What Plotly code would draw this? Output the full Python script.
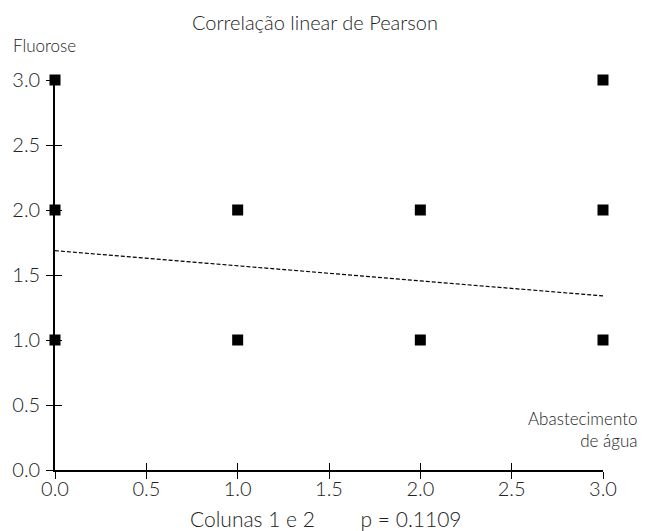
import plotly.graph_objects as go

# Data
abastecimento = [0, 0, 0, 1, 1, 2, 2, 3, 3, 3]
fluorose = [3, 2, 1, 2, 1, 2, 1, 3, 2, 1]
reg_intercept = 1.687
reg_slope = -0.116
reg_x = [0, 3]
reg_y = [reg_intercept + reg_slope * v for v in reg_x]
tick_vals = [0, 0.5, 1, 1.5, 2, 2.5, 3]
tick_text = ["0.0", "0.5", "1.0", "1.5", "2.0", "2.5", "3.0"]

FONT = "Lato"
W8 = 300
TXT = "#222222"

fig = go.Figure()
fig.add_trace(go.Scatter(x=reg_x, y=reg_y, mode="lines",
                         line=dict(color="black", width=1.2, dash="4px,2px"),
                         showlegend=False, hoverinfo="skip"))
fig.add_trace(go.Scatter(x=abastecimento, y=fluorose, mode="markers",
                         marker=dict(symbol="square", size=11, color="black"),
                         cliponaxis=False, showlegend=False))
# dummy trace so secondary axes render
fig.add_trace(go.Scatter(x=[None], y=[None], xaxis="x2", yaxis="y2", showlegend=False))

axis_common = dict(range=[0, 3], tickvals=tick_vals, showgrid=False, zeroline=False,
                   showline=True, linecolor="black", linewidth=1.6,
                   ticklen=7, tickwidth=1.2, tickcolor="black")

L, R, T, B = 55, 47, 80, 61
PW, PH = 650 - L - R, 531 - T - B
tf = dict(family=FONT, size=20, color=TXT, weight=W8)

fig.update_layout(
    width=650, height=531,
    margin=dict(l=L, r=R, t=T, b=B),
    paper_bgcolor="white", plot_bgcolor="white",
    font=dict(family=FONT, size=18, color=TXT, weight=W8),
    xaxis=dict(**axis_common, ticktext=tick_text, ticks="outside",
               tickfont=tf, ticklabelstandoff=-7),
    yaxis=dict(**axis_common, ticktext=tick_text, ticks="outside",
               tickfont=tf, ticklabelstandoff=2),
    xaxis2=dict(range=[0, 3], tickvals=tick_vals, overlaying="x", side="bottom",
                anchor="y", ticks="inside", ticklen=7, tickwidth=1.2, tickcolor="black",
                showticklabels=False, showgrid=False, zeroline=False, showline=False),
    yaxis2=dict(range=[0, 3], tickvals=tick_vals, overlaying="y", side="left",
                anchor="x", ticks="inside", ticklen=7, tickwidth=1.2, tickcolor="black",
                showticklabels=False, showgrid=False, zeroline=False, showline=False),
    showlegend=False,
)


def px(x):
    return (x - L) / PW


def py(y):
    return (531 - B - y) / PH


fig.add_annotation(text="Correlação linear de Pearson", xref="paper", yref="paper",
                   x=px(315), y=py(22), xanchor="center", yanchor="middle",
                   showarrow=False, font=dict(family=FONT, size=20, color=TXT, weight=W8))
fig.add_annotation(text="Fluorose", xref="paper", yref="paper",
                   x=px(11), y=py(45), xanchor="left", yanchor="middle",
                   showarrow=False, font=dict(family=FONT, size=17, color=TXT, weight=W8))
fig.add_annotation(text="Abastecimento<br>de água", xref="paper", yref="paper",
                   x=px(639), y=py(429), xanchor="right", yanchor="middle",
                   align="right", showarrow=False,
                   font=dict(family=FONT, size=17, color=TXT, weight=W8))
fig.add_annotation(text="Colunas 1 e 2&nbsp;&nbsp;&nbsp;&nbsp;&nbsp;&nbsp;&nbsp;&nbsp;p = 0.1109",
                   xref="paper", yref="paper",
                   x=px(326), y=py(518), xanchor="center", yanchor="middle",
                   showarrow=False, font=dict(family=FONT, size=21, color=TXT, weight=W8))

fig.write_html("out.html", config={"displayModeBar": False},
               post_script="document.body.style.margin='0';document.body.style.overflow='hidden';")
